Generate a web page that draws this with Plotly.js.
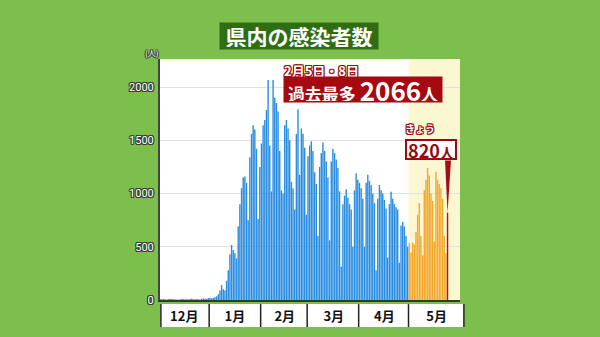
<!DOCTYPE html>
<html><head><meta charset="utf-8">
<script src="https://cdn.plot.ly/plotly-3.0.1.min.js"></script>
<style>html,body{margin:0;padding:0;background:#7cbf4d;} #chart{width:600px;height:337px;}</style>
</head><body><div id="chart"></div>
<script>
// daily new cases, 2021-12-02 .. 2022-05-24
const decValues = [9,8,10,6,4,9,12,10,8,7,5,3,8,10,9,7,6,5,9,11,8,7,10,6,5,12,14,15,10,18];
const janValues = [20,15,20,25,35,55,90,140,100,90,180,280,430,516,470,440,390,690,900,1050,1150,1160,1100,750,1340,1560,1640,1600,1420,760,1250];
const febValues = [1470,1640,1690,1785,2066,1450,1020,2066,1900,1850,1770,1400,1030,1000,1640,1690,1610,1500,1110,1050,850,1560,1790,1175,1610,1560,1430,800];
const marValues = [1350,1450,1490,1400,1200,1090,600,1250,1380,1480,1400,1300,1150,560,1300,1420,1380,1320,1240,1020,313,900,980,1040,960,900,850,500,1030,1190,1130];
const aprValues = [1100,1050,950,500,1100,1175,1120,1080,1000,910,280,950,1080,1030,1000,940,860,400,900,1017,950,900,870,850,350,700,735,690,600,500];
const mayValues = [535,445,540,520,640,800,910,600,420,1030,1130,1240,1170,1000,930,550,1205,1130,1090,1050,950,600,440,820];

const startDay = [2021, 11, 2];
const monthLabels = ['12月','1月','2月','3月','4月','5月'];
const monthLabelDates = ['2021-12-16 12:00','2022-01-16','2022-02-15','2022-03-16 12:00','2022-04-16','2022-05-17 10:00'];
const monthBounds = ['2021-12-31 12:00','2022-01-31 12:00','2022-02-28 12:00','2022-03-31 12:00','2022-04-30 12:00'];
const yTicks = [0,500,1000,1500,2000];
const recentStart = '2022-04-30 12:00';
const peakDates = '2月5日・8日';
const peakValue = 2066;

const values = [].concat(decValues, janValues, febValues, marValues, aprValues, mayValues);
const dates = values.map((v,i)=>new Date(Date.UTC(startDay[0], startDay[1], startDay[2]+i)).toISOString().slice(0,10));
const todayDate = dates[dates.length-1];
const todayValue = values[values.length-1];
const colors = dates.map((d,i)=> i===values.length-1 ? '#b3121b' : (d >= '2022-05-01' ? '#f4a82c' : '#2b8de0'));

const outline = (c,w)=>{w=w||1;return `${w}px 0 0 ${c}, -${w}px 0 0 ${c}, 0 ${w}px 0 ${c}, 0 -${w}px 0 ${c}, ${w}px ${w}px 0 ${c}, -${w}px -${w}px 0 ${c}, ${w}px -${w}px 0 ${c}, -${w}px ${w}px 0 ${c}`;};
const JP = '"Noto Sans CJK JP", "Noto Sans", sans-serif';

const trace = {
  type:'bar', x:dates, y:values,
  marker:{color:colors, line:{width:0}},
  hoverinfo:'skip'
};

const shapes = [
  {type:'rect', xref:'x', yref:'paper', x0:recentStart, x1:'2022-05-31 12:00', y0:0, y1:1, fillcolor:'#fcf7d3', line:{width:0}, layer:'below'},
  {type:'rect', xref:'paper', yref:'paper', x0:0, x1:1.013, y0:-0.112, y1:-0.017, fillcolor:'#ffffff', line:{width:0}, layer:'below'},
  {type:'line', xref:'paper', yref:'paper', x0:0.003, x1:0.003, y0:-0.112, y1:-0.017, line:{color:'#222', width:1.5}},
  {type:'line', xref:'paper', yref:'paper', x0:1.013, x1:1.013, y0:-0.112, y1:-0.017, line:{color:'#222', width:1.5}},
  {type:'path', xref:'x', yref:'y', path:`M 2022-05-22_12:00,1310 L 2022-05-26_02:00,1310 L ${todayDate},${todayValue} Z`, fillcolor:'#a30d14', line:{width:0}}
];
monthBounds.forEach(b=>shapes.push({type:'line', xref:'x', yref:'paper', x0:b, x1:b, y0:-0.112, y1:-0.017, line:{color:'#222', width:1.5}}));

const annotations = [
  {xref:'paper', yref:'paper', x:0.463, y:1.0975, xanchor:'center', yanchor:'middle', text:'県内の感染者数', showarrow:false,
   font:{family:JP, size:21, color:'#ffffff', weight:700}, bgcolor:'#2f6d14', width:154, height:22, borderpad:2},
  {xref:'paper', yref:'paper', x:-0.03, y:1.027, xanchor:'center', yanchor:'middle', text:'(人)', showarrow:false,
   font:{family:JP, size:8, color:'#ffffff', shadow:outline('#444')}},
  {xref:'paper', yref:'paper', x:0.538, y:0.952, xanchor:'center', yanchor:'middle', text:peakDates, showarrow:false,
   font:{family:JP, size:13, color:'#ffffff', weight:700, shadow:outline('#9a0b12')}},
  {xref:'paper', yref:'paper', x:0.677, y:0.873, xanchor:'center', yanchor:'middle',
   text:`過去最多 <span style="font-size:26px">${peakValue}</span>人`, showarrow:false,
   font:{family:JP, size:17, color:'#ffffff', weight:700}, bgcolor:'#a50a12', width:156, height:23, borderpad:1},
  {xref:'paper', yref:'paper', x:0.868, y:0.712, xanchor:'center', yanchor:'middle', text:'きょう', showarrow:false,
   font:{family:JP, size:10, color:'#ffffff', weight:700, shadow:outline('#9a0b12')}},
  {xref:'paper', yref:'paper', x:0.9017, y:0.6245, xanchor:'center', yanchor:'middle',
   text:`${todayValue}<span style="font-size:14px">人</span>`, showarrow:false,
   font:{family:JP, size:18, color:'#8f0b12', weight:700}, bgcolor:'#ffffff', bordercolor:'#9b0a0f', borderwidth:2, width:48, height:17, borderpad:0}
];

const layout = {
  width:600, height:337,
  margin:{l:160, r:140, t:59, b:37},
  paper_bgcolor:'#7cbf4d', plot_bgcolor:'#ffffff',
  showlegend:false, bargap:0.15,
  xaxis:{type:'date', range:['2021-12-01 22:00','2022-05-31 12:00'], tickvals:monthLabelDates, ticktext:monthLabels,
         ticks:'', showgrid:false, showline:true, linecolor:'#2f3b28', linewidth:2, zeroline:false,
         tickfont:{family:JP, size:13, color:'#111', weight:700}, ticklabelstandoff:3, fixedrange:true},
  yaxis:{range:[0,2263], tickvals:yTicks, ticks:'', showgrid:true, gridcolor:'#e2e2e2', gridwidth:1,
         showline:true, linecolor:'#444', linewidth:2, zeroline:false,
         tickfont:{family:'Roboto, sans-serif', size:11, color:'#ffffff', shadow:outline('#3a3a3a')}, ticklabelstandoff:2, fixedrange:true},
  shapes:shapes, annotations:annotations
};

Plotly.newPlot('chart', [trace], layout, {staticPlot:true, displayModeBar:false});
</script>
</body></html>
